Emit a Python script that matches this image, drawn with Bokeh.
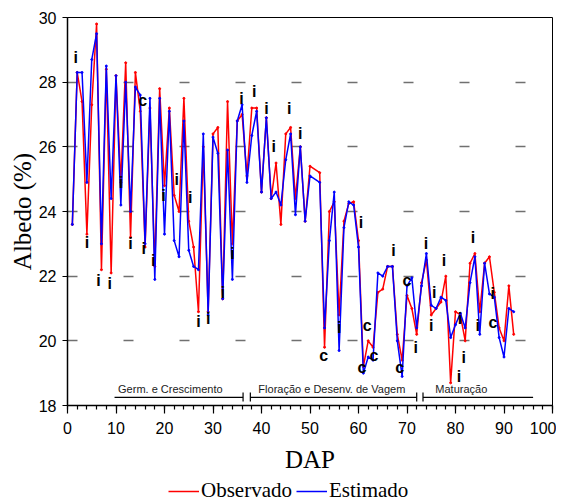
from bokeh.plotting import figure
from bokeh.layouts import column
from bokeh.models import Range1d, FixedTicker, Legend, LegendItem, Label, ColumnDataSource
from bokeh.core.properties import value
from bokeh.embed import file_html
from bokeh.resources import INLINE

# ---- data ----
dap = [1, 2, 3, 4, 5, 6, 7, 8, 9, 10, 11, 12, 13, 14, 15, 16, 17, 18, 19, 20,
       21, 22, 23, 24, 25, 26, 27, 28, 29, 30, 31, 32, 33, 34, 35, 36, 37, 38, 39, 40,
       41, 42, 43, 44, 45, 46, 47, 48, 49, 50, 52, 53, 54, 55, 56, 57, 58, 59, 60,
       61, 62, 63, 64, 65, 66, 67, 68, 69, 70, 71, 72, 73, 74, 75, 76, 77, 78, 79, 80,
       81, 82, 83, 84, 85, 86, 87, 88, 89, 90, 91, 92]
observado = [23.6, 28.3, 27.4, 23.3, 27.3, 29.8, 22.2, 28.4, 22.1, 28.2,
             24.9, 28.6, 23.2, 28.3, 27.1, 22.9, 27.2, 22.3, 27.8, 24.8,
             27.2, 24.5, 24.0, 27.5, 23.7, 22.9, 20.9, 26.0, 20.9, 26.4,
             26.6, 21.3, 27.4, 23.0, 26.8, 27.0, 25.1, 27.2, 27.2, 24.6,
             26.9, 24.4, 25.5, 23.6, 26.4, 26.6, 24.4, 26.0, 23.7, 25.4,
             25.2, 19.8, 24.0, 24.3, 20.8, 23.7, 24.25, 24.3, 23.1,
             19.2, 20.0, 19.8, 21.5, 21.6, 22.3, 22.3, 20.2, 19.4, 21.4,
             21.0, 20.2, 21.8, 22.5, 20.8, 21.0, 21.2, 22.0, 18.7, 20.9,
             20.8, 20.0, 22.4, 22.7, 20.9, 22.4, 22.6, 21.5, 20.4, 20.0,
             21.7, 20.2]
estimado = [23.6, 28.3, 28.3, 24.9, 28.7, 29.5, 23.0, 28.5, 24.4, 28.2,
            24.2, 28.0, 24.0, 27.85, 27.6, 23.0, 27.5, 21.9, 27.5, 23.3,
            27.1, 23.1, 22.6, 26.8, 22.8, 22.3, 22.2, 26.4, 20.8, 26.3,
            25.8, 21.3, 25.9, 21.9, 26.8, 27.3, 24.9, 26.35, 27.1, 24.6,
            26.9, 24.4, 24.6, 24.2, 25.6, 26.4, 23.9, 26.0, 23.7, 25.1,
            24.9, 20.4, 23.1, 24.6, 19.7, 23.5, 24.3, 24.2, 22.9,
            19.0, 19.5, 19.4, 22.1, 22.0, 22.3, 22.3, 20.0, 18.9, 21.7,
            21.95, 20.4, 21.7, 22.7, 21.1, 21.0, 21.35, 21.25, 20.1, 20.5,
            20.85, 20.4, 21.8, 22.6, 20.2, 22.4, 21.45, 21.35, 20.1, 19.5,
            21.0, 20.9]

# point annotations ("i" / "c")
mark_x = [1.7, 4.0, 6.4, 8.7, 11.0, 13.0, 15.7, 17.7, 19.8, 22.5, 25.3, 27.0, 29.0,
          32.0, 34.0, 35.85, 38.5, 41.0, 42.5, 45.7, 48.0, 56.0, 60.5, 67.2, 71.8,
          73.9, 75.6, 75.0, 77.6, 80.7, 80.9, 81.7, 83.6, 84.6, 87.7,
          15.5, 52.8, 61.8, 63.2, 60.7, 70.0, 68.5, 87.7]
mark_y = [28.76, 23.04, 21.86, 21.77, 24.9, 23.0, 22.86, 22.5, 24.5, 25.0, 24.43, 20.6, 20.7,
          21.5, 22.7, 27.5, 27.7, 27.2, 26.0, 27.18, 26.4, 20.4, 23.66, 22.8, 19.8,
          23.0, 21.5, 20.47, 22.48, 18.9, 20.7, 19.5, 23.2, 20.47, 21.46,
          27.43, 19.54, 20.47, 19.54, 19.17, 21.86, 19.17, 20.57]
mark_txt = ["i"] * 35 + ["c"] * 8

# phases
phase_names = ["Germ. e Crescimento", "Floração e Desenv. de Vagem", "Maturação"]
phase_start = [9.7, 37.7, 73.3]
phase_end = [36.2, 72.0, 96.0]
phase_center = [21.2, 54.5, 81.2]
tick_x = [36.2, 37.7, 72.0, 73.3]

x_ticks = list(range(0, 101, 10))
x_minor = list(range(0, 101, 2))
y_ticks = [18, 20, 22, 24, 26, 28, 30]
grid_ticks = [20, 22, 24, 26, 28]

# ---- main figure ----
p = figure(width=556, height=478, x_range=Range1d(0, 100), y_range=Range1d(18, 30),
           output_backend="svg", toolbar_location=None,
           min_border_left=67, min_border_right=4, min_border_top=17, min_border_bottom=73,
           x_axis_label="DAP", y_axis_label="Albedo (%)")
p.background_fill_color = "white"
p.border_fill_color = "white"
p.outline_line_color = "black"
p.outline_line_width = 1

p.xgrid.grid_line_color = None
p.ygrid.ticker = FixedTicker(ticks=grid_ticks)
p.ygrid.grid_line_color = "#707070"
p.ygrid.grid_line_width = 1.5
p.ygrid.grid_line_dash = "10 46"

xa = p.xaxis[0]
xa.ticker = FixedTicker(ticks=x_ticks, minor_ticks=x_minor)
xa.major_tick_out = 8
xa.major_tick_in = 0
xa.minor_tick_out = 4
xa.minor_tick_in = 0
xa.axis_line_width = 1.5
xa.major_tick_line_width = 1.2
xa.minor_tick_line_width = 1.2
xa.major_label_text_font = "Liberation Sans"
xa.major_label_text_font_size = "16px"
xa.major_label_text_color = "black"
xa.major_label_standoff = 8
xa.axis_label_text_font = "Liberation Serif"
xa.axis_label_text_font_size = "25px"
xa.axis_label_text_font_style = "normal"
xa.axis_label_text_color = "black"
xa.axis_label_standoff = 9

ya = p.yaxis[0]
ya.ticker = FixedTicker(ticks=y_ticks)
ya.major_tick_out = 5
ya.major_tick_in = 0
ya.minor_tick_line_color = None
ya.axis_line_width = 1.5
ya.major_tick_line_width = 1.2
ya.major_label_text_font = "Liberation Sans"
ya.major_label_text_font_size = "16px"
ya.major_label_text_color = "black"
ya.major_label_standoff = 6
ya.axis_label_text_font = "Liberation Serif"
ya.axis_label_text_font_size = "25px"
ya.axis_label_text_font_style = "normal"
ya.axis_label_text_color = "black"
ya.axis_label_standoff = 0

# series
p.line(dap, observado, line_color="#ff0000", line_width=1.5)
p.scatter(dap, observado, size=2, color="#ff0000")
p.line(dap, estimado, line_color="#0000ff", line_width=1.5)
p.scatter(dap, estimado, size=2, color="#0000ff")

# i / c marks
src = ColumnDataSource(dict(x=mark_x, y=mark_y, t=mark_txt))
p.text(x="x", y="y", text="t", source=src, text_font=value("Liberation Sans"),
       text_font_style="bold", text_font_size="16px", text_color="black",
       text_align="center", text_baseline="middle")

# phase brackets
p.segment(x0=phase_start, y0=[18.25] * 3, x1=phase_end, y1=[18.25] * 3,
          line_color="black", line_width=1.2)
p.segment(x0=tick_x, y0=[18.12] * 4, x1=tick_x, y1=[18.4] * 4,
          line_color="black", line_width=1.2)
for name, cx in zip(phase_names, phase_center):
    p.add_layout(Label(x=cx, y=18.52, text=name, text_font="Liberation Sans",
                       text_font_size="11px", text_color="#222222",
                       text_align="center", text_baseline="middle"))

# ---- legend strip below ----
q = figure(width=556, height=25, x_range=Range1d(0, 1), y_range=Range1d(0, 1),
           output_backend="svg", toolbar_location=None,
           x_axis_location=None, y_axis_location=None,
           min_border_left=0, min_border_right=0, min_border_top=0, min_border_bottom=0)
q.grid.grid_line_color = None
q.outline_line_color = None
q.background_fill_color = "white"
q.border_fill_color = "white"
# legend proxies kept outside the strip's visible range
l_obs = q.line([-5, -4], [-5, -5], line_color="#ff0000", line_width=1.5)
l_est = q.line([-5, -4], [-5, -5], line_color="#0000ff", line_width=1.5)
legend = Legend(items=[LegendItem(label="Observado", renderers=[l_obs]),
                       LegendItem(label="Estimado", renderers=[l_est])],
                location=(101, 0), orientation="horizontal",
                border_line_color=None, background_fill_alpha=0,
                label_text_font="Liberation Serif", label_text_font_size="21px",
                label_text_color="black",
                glyph_width=31, glyph_height=20, padding=0, spacing=4, margin=0,
                label_standoff=2)
q.add_layout(legend)

layout = column(p, q, spacing=0)
open("out.html", "w").write(file_html(layout, INLINE))
